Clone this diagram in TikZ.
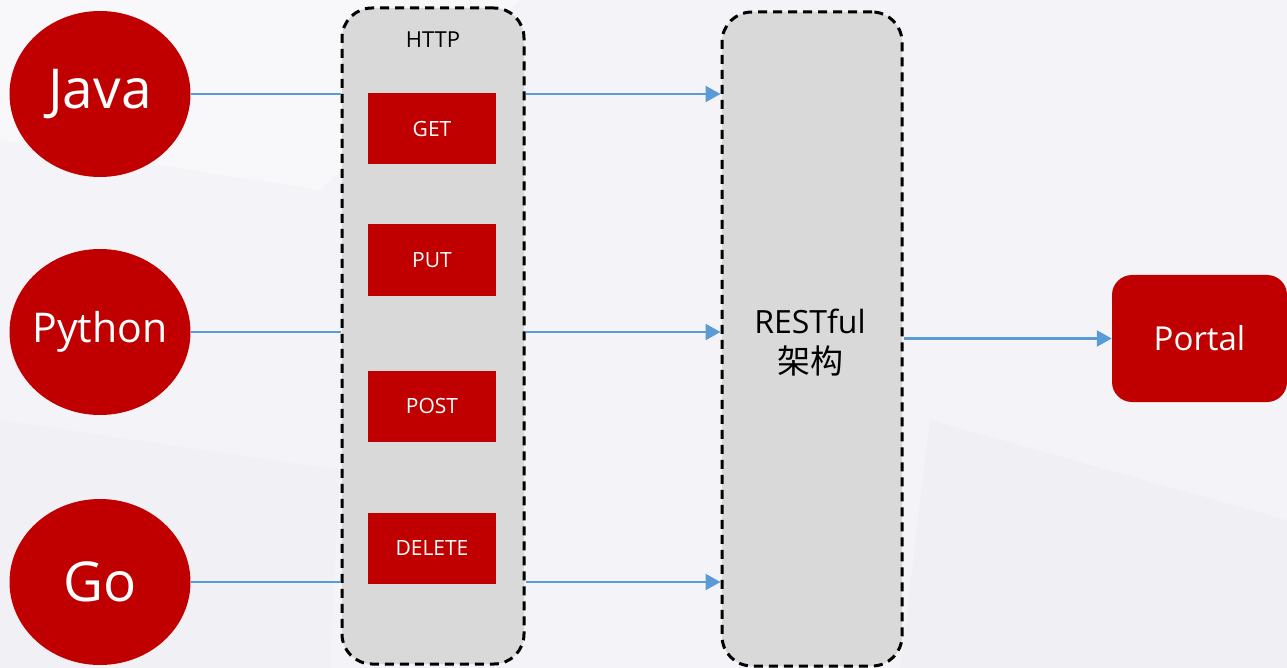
\documentclass[tikz,border=0pt]{standalone}
\usepackage{fontspec}
\setmainfont{Open Sans}
\newfontfamily\cjk{Noto Sans CJK SC}
\usetikzlibrary{shapes.geometric,arrows.meta}
\definecolor{bgc}{RGB}{244,244,248}
\definecolor{redc}{RGB}{192,0,0}
\definecolor{grayc}{RGB}{217,217,217}
\definecolor{bluec}{RGB}{91,155,213}
\tikzset{
  lang/.style={ellipse,fill=redc,minimum width=181pt,minimum height=166pt,inner sep=0pt},
  langtext/.style={text=white,font=\fontsize{#1}{#1}\selectfont},
  panel/.style={draw=black,fill=grayc,line width=3pt,dash pattern=on 9pt off 6pt,rounded corners=30pt,inner sep=0pt},
  verb/.style={fill=redc,text=white,minimum width=128pt,minimum height=71pt,inner sep=0pt,font=\fontsize{21}{24}\selectfont},
  conn/.style={draw=bluec,line width=2.4pt},
  arr/.style={conn,-{Triangle[length=15pt,width=16pt]}}
}
\begin{document}
\begin{tikzpicture}[x=1pt,y=-1pt]
\useasboundingbox (0,0) rectangle (1287,668);
\fill[bgc] (0,0) rectangle (1287,668);
\fill[white,opacity=0.45] (0,0) -- (520,0) -- (320,190) -- (0,140) -- cycle;
\fill[black,opacity=0.015] (930,420) -- (1287,520) -- (1287,668) -- (900,668) -- cycle;
\fill[black,opacity=0.012] (0,420) -- (340,470) -- (330,668) -- (0,668) -- cycle;
% panels
\node[panel,minimum width=182pt,minimum height=656pt] (http) at (433,336) {};
\node[panel,minimum width=180pt,minimum height=654pt] (rest) at (812,339) {};
\node[font=\fontsize{22}{26}\selectfont] (httpl) at (433,40) {HTTP};
\node[align=center,font=\fontsize{32}{38}\selectfont] (restl) at (810,343) {RESTful\\[2pt]{\cjk\fontsize{33}{38}\selectfont 架构}};
% verbs
\node[verb] (get) at (432,129) {GET};
\node[verb] (put) at (432,260) {PUT};
\node[verb] (post) at (432,406) {POST};
\node[verb] (del) at (432,548) {DELETE};
% languages
\node[lang,label={[langtext=55]center:Java}] (java) at (100,94) {};
\node[lang,label={[langtext=41]center:Python}] (python) at (100,332) {};
\node[lang,label={[langtext=55]center:Go}] (go) at (100,582) {};
% portal
\node[fill=redc,text=white,rounded corners=20pt,minimum width=175pt,minimum height=127pt,inner sep=0pt,font=\fontsize{33}{38}\selectfont] (portal) at (1199.5,338.5) {Portal};
% connectors
\draw[conn] (java.east) -- (java.east -| http.west);
\draw[arr] (http.east |- java.east) -- (rest.west |- java.east);
\draw[conn] (python.east) -- (python.east -| http.west);
\draw[arr] (http.east |- python.east) -- (rest.west |- python.east);
\draw[conn] (go.east) -- (go.east -| http.west);
\draw[arr] (http.east |- go.east) -- (rest.west |- go.east);
\draw[arr] (rest.east |- portal.west) -- (portal.west);
\end{tikzpicture}
\end{document}
